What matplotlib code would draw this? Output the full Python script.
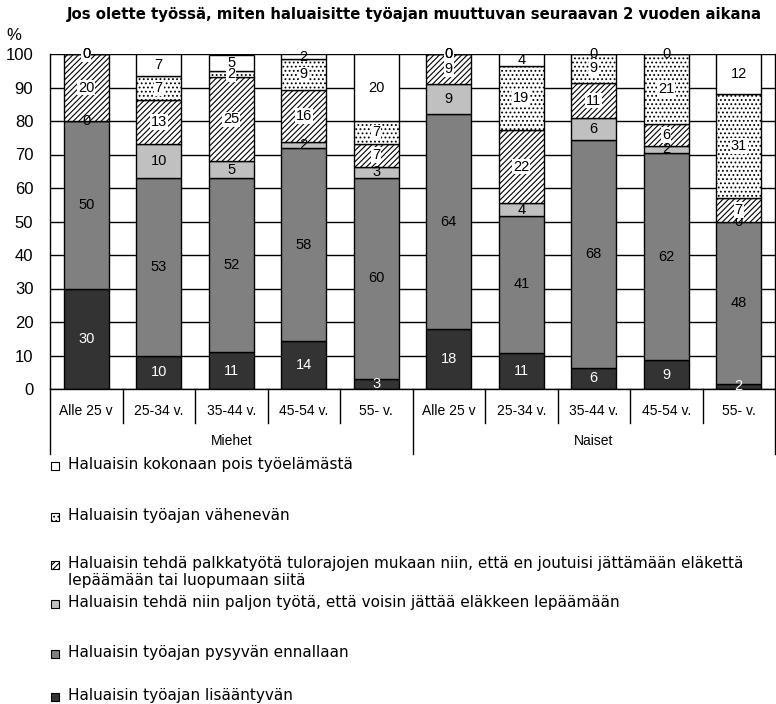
import matplotlib.pyplot as plt
from matplotlib.patches import Rectangle
import numpy as np

plt.rcParams['font.family'] = ['Liberation Sans', 'DejaVu Sans']
plt.rcParams['hatch.linewidth'] = 0.8

# Categories
ages = ['Alle 25 v', '25-34 v.', '35-44 v.', '45-54 v.', '55- v.',
        'Alle 25 v', '25-34 v.', '35-44 v.', '45-54 v.', '55- v.']
groups = ['Miehet', 'Naiset']

# Series (bottom to top), Miehet then Naiset
lisaantyvan = [30, 10, 11, 14.2, 3, 18, 10.8, 6.4, 8.6, 1.6]
ennallaan = [50, 53, 52, 57.8, 60, 64, 40.8, 68, 61.8, 48.4]
jattaa_lepaamaan = [0, 10, 5, 1.6, 3.4, 9, 3.8, 6.4, 2.2, 0]
tulorajat = [20, 13.4, 25, 15.8, 6.8, 9, 22, 10.6, 6.4, 7]
vahenevan = [0, 7, 2, 9, 6.8, 0, 19, 8.6, 21, 31]
pois = [0, 6.6, 4.6, 1.6, 20, 0, 3.6, 0, 0, 12]

series = [
    ('Haluaisin työajan lisääntyvän', lisaantyvan, '#333333', None),
    ('Haluaisin työajan pysyvän ennallaan', ennallaan, '#808080', None),
    ('Haluaisin tehdä niin paljon työtä, että voisin jättää eläkkeen lepäämään',
     jattaa_lepaamaan, '#c0c0c0', None),
    ('Haluaisin tehdä palkkatyötä tulorajojen mukaan niin, että en joutuisi jättämään eläkettä\nlepäämään tai luopumaan siitä',
     tulorajat, 'white', '//////'),
    ('Haluaisin työajan vähenevän', vahenevan, 'white', '....'),
    ('Haluaisin kokonaan pois työelämästä', pois, 'white', None),
]

fig = plt.figure(figsize=(7.76, 7.04), dpi=100)
ax = fig.add_axes([50 / 776, 315 / 704, 725 / 776, 335 / 704])

x = np.arange(len(ages))
bottom = np.zeros(len(ages))
for name, vals, color, hatch in series:
    vals = np.array(vals, dtype=float)
    ax.bar(x, vals, 0.62, bottom=bottom, color=color, hatch=hatch,
           edgecolor='black', linewidth=1, zorder=2)
    for xi, b, v in zip(x, bottom, vals):
        txtcol = 'white' if color == '#333333' else 'black'
        box = None
        if hatch is not None:
            box = dict(facecolor='white', edgecolor='none', pad=0.5)
        ax.text(xi, b + v / 2, f'{v:.0f}', ha='center', va='center',
                fontsize=10.5, color=txtcol, bbox=box, zorder=3)
    bottom += vals

ax.set_xlim(-0.5, len(ages) - 0.5)
ax.set_ylim(0, 100)
ax.set_yticks(range(0, 101, 10))
ax.tick_params(axis='y', length=0, labelsize=12, pad=12)
ax.set_xticks([])
ax.yaxis.grid(True, color='black', linewidth=1, zorder=0)
for s in ax.spines.values():
    s.set_color('black')
    s.set_linewidth(1)
ax.spines['top'].set_visible(False)

# category axis below the plot
tr = ax.get_xaxis_transform()
for i in range(len(ages) + 1):
    depth = -0.195 if i in (0, 5, 10) else -0.1
    ax.plot([i - 0.5, i - 0.5], [0, depth], color='black', linewidth=1,
            transform=tr, clip_on=False)
for xi, lab in zip(x, ages):
    ax.text(xi, -0.066, lab, ha='center', va='center', fontsize=10,
            transform=tr)
for gi, g in enumerate(groups):
    ax.text(gi * 5 + 2, -0.156, g, ha='center', va='center', fontsize=10,
            transform=tr)

fig.text(14 / 776, 1 - 36 / 704, '%', ha='center', va='center', fontsize=12)
fig.text(414 / 776, 1 - 14 / 704,
         'Jos olette työssä, miten haluaisitte työajan muuttuvan seuraavan 2 vuoden aikana',
         ha='center', va='center', fontsize=10.7, fontweight='bold',
         family='DejaVu Sans')

# legend, drawn top to bottom
legend_y = [466, 517, 565, 604, 654, 697]
for (name, vals, color, hatch), ypx in zip(series[::-1], legend_y):
    fig.add_artist(Rectangle((51 / 776, 1 - (ypx + 4) / 704), 8 / 776, 8 / 704,
                             facecolor=color, edgecolor='black', linewidth=0.8,
                             hatch=hatch, transform=fig.transFigure))
    fig.text(68 / 776, 1 - (ypx - 9) / 704, name, ha='left', va='top',
             fontsize=11, linespacing=1.2, family='DejaVu Sans')

fig.savefig('out.png', dpi=100)
